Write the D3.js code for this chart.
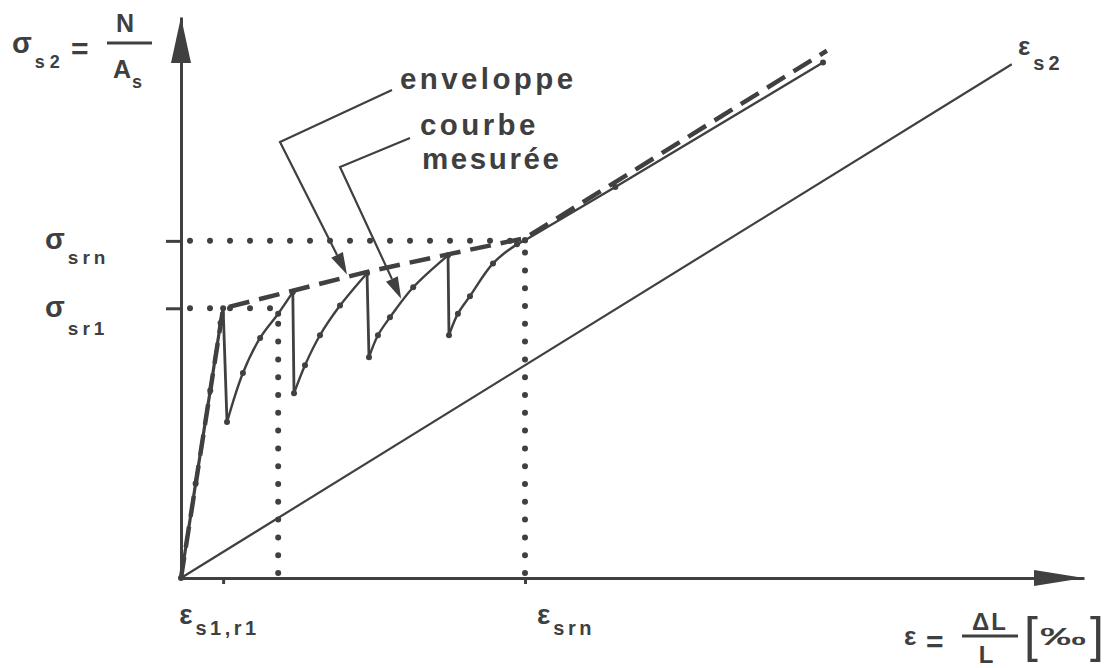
<!DOCTYPE html>
<html>
<head>
<meta charset="utf-8">
<script src="https://cdn.jsdelivr.net/npm/d3@7"></script>
<style>
  html, body { margin: 0; padding: 0; background: #fff; }
  svg { display: block; }
  text { font-family: "Liberation Sans", Arial, sans-serif; fill: #3f3f3f; font-weight: bold; }
</style>
</head>
<body>
<svg id="chart" width="1113" height="668"></svg>
<script>
// Tension stiffening of a reinforced tie: steel stress σ_s2 = N/A_s against mean strain ε (‰).
// Schematic units: strain in ‰, stress in arbitrary units.
const epsSr1 = 0.49;   // ε_s1,r1 : strain at first crack
const epsMid = 1.13;   // strain reached at σ_sr1 on the bare-bar line
const epsSrn = 4.0;    // ε_srn : end of crack formation
const sigSr1 = 2.0;    // σ_sr1
const sigSrn = 2.5;    // σ_srn

// bare steel ε_s2
const bareSteel = [[0, 0], [9.66, 3.81]];

// measured curve: uncracked loading, then four crack drops with recovery branches
const loading  = [[0, 0], [0.17, 0.70], [0.34, 1.39], [0.46, 1.89], [0.49, 2.0]];
const branch1  = [[0.535, 1.156], [0.72, 1.52], [0.92, 1.78], [1.13, 1.96], [1.30, 2.12]];
const branch2  = [[1.314, 1.37], [1.442, 1.578], [1.616, 1.80], [1.849, 2.02], [2.163, 2.26]];
const branch3  = [[2.186, 1.637], [2.29, 1.80], [2.43, 1.933], [2.70, 2.156], [3.105, 2.393]];
const branch4  = [[3.116, 1.80], [3.22, 1.96], [3.36, 2.09], [3.628, 2.333], [3.907, 2.474], [4.0, 2.504]];
const stabilised = [[4.0, 2.504], [5.05, 2.90], [7.465, 3.822]];

// envelope through the crack peaks
const envelope = [[0, 0], [0.49, 2.0], [1.30, 2.13], [2.163, 2.27], [3.105, 2.40], [3.70, 2.48], [4.0, 2.52], [7.51, 3.91]];

// axis ticks
const xTicks = [epsSr1, epsSrn];
const yTicks = [sigSr1, sigSrn];

const ink = "#404040";
const svg = d3.select("#chart");

const x = d3.scaleLinear().domain([0, 10.5]).range([181, 1084]);
const y = d3.scaleLinear().domain([0, 4.16]).range([578, 17]);

const line = d3.line().x(d => x(d[0])).y(d => y(d[1]));
const smooth = d3.line().x(d => x(d[0])).y(d => y(d[1])).curve(d3.curveCatmullRom.alpha(0.5));

// ---- dotted guides ----
const guides = svg.append("g").attr("fill", "none").attr("stroke", ink)
  .attr("stroke-width", 6).attr("stroke-linecap", "round");
guides.append("path").attr("d", line([[0, sigSrn], [epsSrn, sigSrn]]))
  .attr("stroke-dasharray", "0 20").attr("stroke-dashoffset", 11);
guides.append("path").attr("d", line([[0, sigSr1], [epsMid, sigSr1]]))
  .attr("stroke-dasharray", "0 20").attr("stroke-dashoffset", 11);
guides.append("path").attr("d", line([[epsSrn, 0], [epsSrn, sigSrn]]))
  .attr("stroke-dasharray", "0 17.8").attr("stroke-dashoffset", 12.8);
guides.append("path").attr("d", line([[epsMid, 0], [epsMid, sigSr1]]))
  .attr("stroke-dasharray", "0 17.8").attr("stroke-dashoffset", 12.8);

// ---- axes ----
const gx = svg.append("g").attr("transform", `translate(0,${y(0)})`)
  .call(d3.axisBottom(x).tickValues(xTicks).tickSizeInner(6).tickSizeOuter(0).tickFormat(""));
const gy = svg.append("g").attr("transform", `translate(${x(0)},0)`)
  .call(d3.axisLeft(y).tickValues(yTicks).tickSizeInner(15).tickSizeOuter(0).tickFormat(""));
[gx, gy].forEach(g => {
  g.select(".domain").attr("stroke", ink).attr("stroke-width", 3);
  g.selectAll(".tick line").attr("stroke", ink).attr("stroke-width", 3);
});

// axis arrowheads
const xEnd = x.domain()[1], yEnd = y.domain()[1];
svg.append("path").attr("fill", ink)
  .attr("d", `M${x(xEnd)},${y(0)} L${x(xEnd) - 50},${y(0) - 8} L${x(xEnd) - 50},${y(0) + 8} Z`);
svg.append("path").attr("fill", ink)
  .attr("d", `M${x(0)},${y(yEnd)} L${x(0) - 10},${y(yEnd) + 46} L${x(0) + 10},${y(yEnd) + 46} Z`);

// ---- bare steel line ----
svg.append("path").attr("d", line(bareSteel)).attr("fill", "none")
  .attr("stroke", ink).attr("stroke-width", 2.2);

// ---- envelope ----
svg.append("path").attr("d", line(envelope)).attr("fill", "none")
  .attr("stroke", ink).attr("stroke-width", 4.5)
  .attr("stroke-dasharray", "21 10");

// ---- measured curve ----
const measured = svg.append("g").attr("fill", "none").attr("stroke", ink).attr("stroke-width", 2.4);
const branches = [branch1, branch2, branch3, branch4];
measured.append("path").attr("d", line(loading)).attr("stroke-width", 3.2);
let prev = loading[loading.length - 1];
branches.forEach(b => {
  measured.append("path").attr("d", line([prev, b[0]])).attr("stroke-width", 2.8);
  measured.append("path").attr("d", smooth(b));
  prev = b[b.length - 1];
});
measured.append("path").attr("d", line(stabilised));

// measurement dots
const pts = [].concat(loading, ...branches, stabilised);
svg.append("g").selectAll("circle").data(pts).join("circle")
  .attr("cx", d => x(d[0])).attr("cy", d => y(d[1])).attr("r", 3).attr("fill", ink);

// ---- leader arrows ----
function leader(points, tip) {
  const all = points.concat([tip]);
  const a = all[all.length - 2];
  const dx = tip[0] - a[0], dy = tip[1] - a[1];
  const len = Math.hypot(dx, dy), ux = dx / len, uy = dy / len;
  const bx = tip[0] - ux * 22, by = tip[1] - uy * 22;
  const shaft = all.slice(0, -1).concat([[bx, by]]);
  svg.append("path").attr("d", d3.line()(shaft)).attr("fill", "none")
    .attr("stroke", ink).attr("stroke-width", 2.2);
  svg.append("path").attr("fill", ink)
    .attr("d", `M${tip[0]},${tip[1]} L${bx - uy * 6.5},${by + ux * 6.5} L${bx + uy * 6.5},${by - ux * 6.5} Z`);
}
leader([[392, 90], [280, 142]], [x(1.93), y(2.25)]);
leader([[410, 138], [340, 167]], [x(2.56), y(2.07)]);

svg.append("text").attr("x", 400).attr("y", 89).attr("font-size", 29.5)
  .attr("letter-spacing", 3.4).text("enveloppe");
svg.append("text").attr("x", 420).attr("y", 135).attr("font-size", 29.5)
  .attr("letter-spacing", 3.4).text("courbe");
svg.append("text").attr("x", 422).attr("y", 169).attr("font-size", 29.5)
  .attr("letter-spacing", 2.6).text("mesurée");

// ---- labels with subscripts ----
function subLabel(px, py, main, sub, mainSize, subSize, dy, ls) {
  const t = svg.append("text").attr("x", px).attr("y", py);
  t.append("tspan").attr("font-size", mainSize).text(main);
  t.append("tspan").attr("font-size", subSize).attr("dx", 3).attr("dy", dy)
    .attr("letter-spacing", ls).text(sub);
  return t;
}
// stress ticks
subLabel(45, y(sigSrn) + 8, "σ", "srn", 29, 19, 15, 4);
subLabel(45, y(sigSr1) + 9, "σ", "sr1", 29, 19, 18, 4);
// strain ticks
subLabel(x(epsSr1) - 44, 624, "ε", "s1,r1", 28, 20, 11, 3.5);
subLabel(x(epsSrn) + 12, 624, "ε", "srn", 28, 20, 11, 3.5);
// bare steel
subLabel(1018, 55, "ε", "s2", 26, 20, 15, 4);

// y-axis title σ_s2 = N / A_s
subLabel(12, 53, "σ", "s2", 29, 18, 15, 5);
svg.append("text").attr("x", 71).attr("y", 59).attr("font-size", 30).text("=");
svg.append("line").attr("x1", 107).attr("x2", 152).attr("y1", 43).attr("y2", 43)
  .attr("stroke", ink).attr("stroke-width", 3);
svg.append("text").attr("x", 125).attr("y", 32).attr("font-size", 25).attr("text-anchor", "middle").text("N");
const aLab = svg.append("text").attr("x", 113).attr("y", 78);
aLab.append("tspan").attr("font-size", 25).text("A");
aLab.append("tspan").attr("font-size", 18).attr("dx", 1).attr("dy", 10).text("s");

// x-axis title ε = ΔL / L [‰]
svg.append("text").attr("x", 904).attr("y", 645).attr("font-size", 26).text("ε");
svg.append("text").attr("x", 926).attr("y", 652).attr("font-size", 30).text("=");
svg.append("text").attr("x", 990).attr("y", 630).attr("font-size", 24).attr("text-anchor", "middle")
  .attr("letter-spacing", 2).text("ΔL");
svg.append("line").attr("x1", 962).attr("x2", 1018).attr("y1", 636).attr("y2", 636)
  .attr("stroke", ink).attr("stroke-width", 3);
svg.append("text").attr("x", 986).attr("y", 663).attr("font-size", 24).attr("text-anchor", "middle").text("L");
svg.append("text").attr("x", 1024).attr("y", 652).attr("font-size", 50).style("font-weight", "normal").text("[");
svg.append("text").attr("x", 1040).attr("y", 645).attr("font-size", 24)
  .attr("textLength", 46).attr("lengthAdjust", "spacingAndGlyphs").text("‰");
svg.append("text").attr("x", 1090).attr("y", 652).attr("font-size", 50).style("font-weight", "normal").text("]");
</script>
</body>
</html>
